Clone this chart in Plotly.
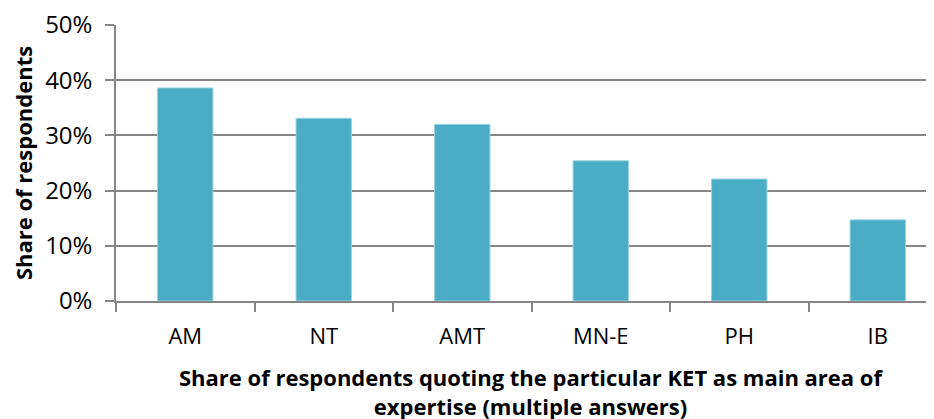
import plotly.graph_objects as go

categories = ["AM", "NT", "AMT", "MN-E", "PH", "IB"]
shares = [0.386, 0.331, 0.320, 0.254, 0.221, 0.147]
y_ticks = [0, 0.1, 0.2, 0.3, 0.4, 0.5]
y_tick_labels = ["0%", "10%", "20%", "30%", "40%", "50%"]

FONT = "Open Sans"
GRID = "#868686"

fig = go.Figure(go.Bar(
    x=categories, y=shares,
    marker=dict(color="#4BACC6", line=dict(color="#9CD3E2", width=1)),
    width=0.4,
))

fig.update_layout(
    width=926, height=411,
    margin=dict(l=108, r=0, t=17, b=118),
    plot_bgcolor="white", paper_bgcolor="white",
    showlegend=False,
    font=dict(family=FONT, size=20, color="#000000"),
)
fig.update_xaxes(
    type="category", range=[-0.5, 5.406], automargin=False,
    showline=True, linecolor=GRID, linewidth=1.5,
    ticks="outside", ticklen=9, tickcolor=GRID, tickwidth=1.5,
    tickson="boundaries", showgrid=False,
    tickfont=dict(family=FONT, size=22),
    ticklabelstandoff=15,
)
fig.update_yaxes(
    range=[0, 0.5], tickvals=y_ticks, ticktext=y_tick_labels, automargin=False,
    showline=True, linecolor=GRID, linewidth=1.5,
    ticks="outside", ticklen=9, tickcolor=GRID, tickwidth=1.5,
    showgrid=True, gridcolor=GRID, gridwidth=1.5, zeroline=False,
    tickfont=dict(family=FONT, size=24),
    ticklabelstandoff=8, ticklabeloverflow="allow",
    title=dict(text="<b>Share of respondents</b>", font=dict(family=FONT, size=22), standoff=13),
)
fig.add_annotation(
    text="<b>Share of respondents quoting the particular KET as main area of<br>expertise (multiple answers)</b>",
    xref="paper", yref="paper", x=0.507, y=-0.328, yanchor="middle", xanchor="center",
    showarrow=False, font=dict(family=FONT, size=22), align="center",
)
fig.write_html("out.html")
